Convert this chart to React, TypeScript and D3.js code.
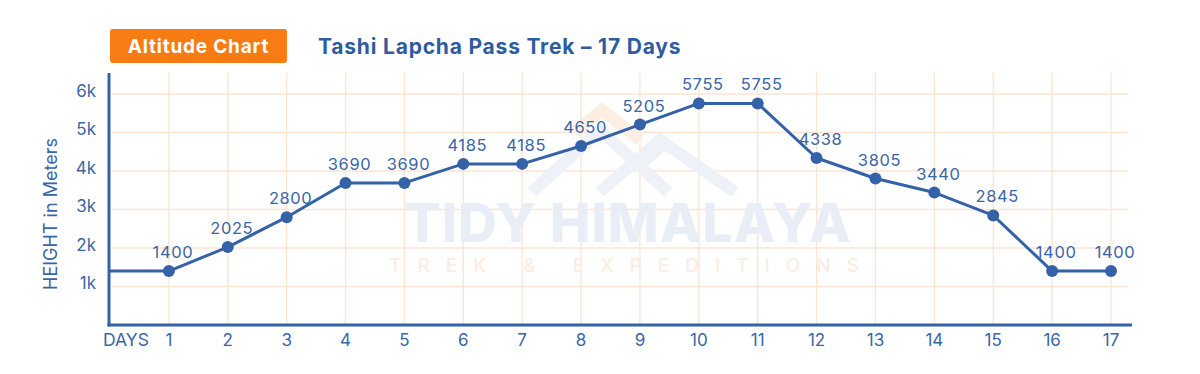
import React from "react";
import * as d3 from "d3";

const days = [1, 2, 3, 4, 5, 6, 7, 8, 9, 10, 11, 12, 13, 14, 15, 16, 17];
const altitudes = [1400, 2025, 2800, 3690, 3690, 4185, 4185, 4650, 5205, 5755, 5755, 4338, 3805, 3440, 2845, 1400, 1400];
const yTicks = [1000, 2000, 3000, 4000, 5000, 6000];
const yTickLabels = ["1k", "2k", "3k", "4k", "5k", "6k"];
const badgeText = "Altitude Chart";
const titleText = "Tashi Lapcha Pass Trek – 17 Days";
const yAxisTitle = "HEIGHT in Meters";
const xAxisTitle = "DAYS";
const watermarkMain = "TIDY HIMALAYA";
const watermarkSub = "TREK & EXPEDITIONS";

const W = 1200;
const H = 374;
const BLUE = "#3462a8";
const TEXT_BLUE = "#3b66a6";
const GRID = "#fde4d3";
const ORANGE = "#f97b14";
const FONT = "Inter, 'Open Sans', sans-serif";

export default function App() {
  const x = d3.scaleLinear().domain([0, 17]).range([110, 1111]);
  const y = d3.scaleLinear().domain([0, 6000]).range([325, 94]);
  const axisX0 = x(0) - 1;
  const axisX1 = 1132;
  const axisY = y(0);
  const gridRight = 1128;

  const pts: [number, number][] = days.map((d, i) => [x(d), y(altitudes[i])]);
  const lineGen = d3.line<[number, number]>().x((p) => p[0]).y((p) => p[1]);
  const fullPath = lineGen([[x(0), y(altitudes[0])], ...pts]) || "";

  return (
    <div style={{ position: "absolute", left: 0, top: 0 }}>
      <svg width={W} height={H} style={{ display: "block", background: "#fff" }} fontFamily={FONT}>
        {/* grid */}
        {yTicks.map((t) => (
          <line key={"hg" + t} x1={axisX0 + 3} x2={gridRight} y1={y(t)} y2={y(t)} stroke={GRID} strokeWidth={1.3} />
        ))}
        {days.map((d) => (
          <line key={"vg" + d} x1={x(d)} x2={x(d)} y1={73} y2={axisY} stroke={GRID} strokeWidth={1.3} />
        ))}

        {/* watermark */}
        <g>
          <g fill="none" strokeLinejoin="miter" strokeWidth={12}>
            <polyline points="575,132 602,110 640,140" stroke="#fdeee3" />
            <polyline points="532,192 600,130 668,192" stroke="#eef1f7" />
            <polyline points="600,192 660,140 735,192" stroke="#eef1f7" />
            <polyline points="640,165 668,140" stroke="#eef1f7" />
          </g>
          <text x={628} y={242} textAnchor="middle" fontSize={54} fontWeight={800} fill="#e9edf5" letterSpacing={1}>
            {watermarkMain}
          </text>
          <text x={632} y={272} textAnchor="middle" fontSize={19} fontWeight={500} fill="#fcede2" letterSpacing={16}>
            {watermarkSub}
          </text>
        </g>

        {/* axes */}
        <line x1={axisX0} x2={axisX0} y1={73} y2={axisY + 1.5} stroke={BLUE} strokeWidth={3} />
        <line x1={axisX0 - 1.5} x2={axisX1} y1={axisY} y2={axisY} stroke={BLUE} strokeWidth={3} />

        {/* y tick labels */}
        {yTicks.map((t, i) => (
          <text key={"yl" + t} x={96} y={y(t) - 3} dy="0.35em" textAnchor="end" fontSize={17} fill={TEXT_BLUE}>
            {yTickLabels[i]}
          </text>
        ))}
        <text
          transform={`translate(57,${214}) rotate(-90)`}
          textAnchor="middle"
          fontSize={18}
          fill={TEXT_BLUE}
        >
          {yAxisTitle}
        </text>

        {/* x tick labels */}
        <text x={103} y={346} fontSize={17.5} fill={TEXT_BLUE}>
          {xAxisTitle}
        </text>
        {days.map((d) => (
          <text key={"xl" + d} x={x(d)} y={346} textAnchor="middle" fontSize={17} fill={TEXT_BLUE}>
            {d}
          </text>
        ))}

        {/* line */}
        <path d={fullPath} fill="none" stroke={BLUE} strokeWidth={3} strokeLinejoin="round" />
        {pts.map((p, i) => (
          <circle key={"pt" + i} cx={p[0]} cy={p[1]} r={6} fill={BLUE} />
        ))}
        {pts.map((p, i) => (
          <text key={"lb" + i} x={p[0] + 4} y={p[1] - 13} textAnchor="middle" fontSize={16.5} letterSpacing={0.6} fill={TEXT_BLUE}>
            {altitudes[i]}
          </text>
        ))}

        {/* header */}
        <rect x={110} y={29} width={177} height={34} rx={3} fill={ORANGE} />
        <text x={198.5} y={53} textAnchor="middle" fontSize={19} fontWeight={700} letterSpacing={0.8} fill="#fff">
          {badgeText}
        </text>
        <text x={318} y={54} fontSize={21} fontWeight={700} letterSpacing={0.8} fill="#2f5c9e">
          {titleText}
        </text>
      </svg>
    </div>
  );
}
